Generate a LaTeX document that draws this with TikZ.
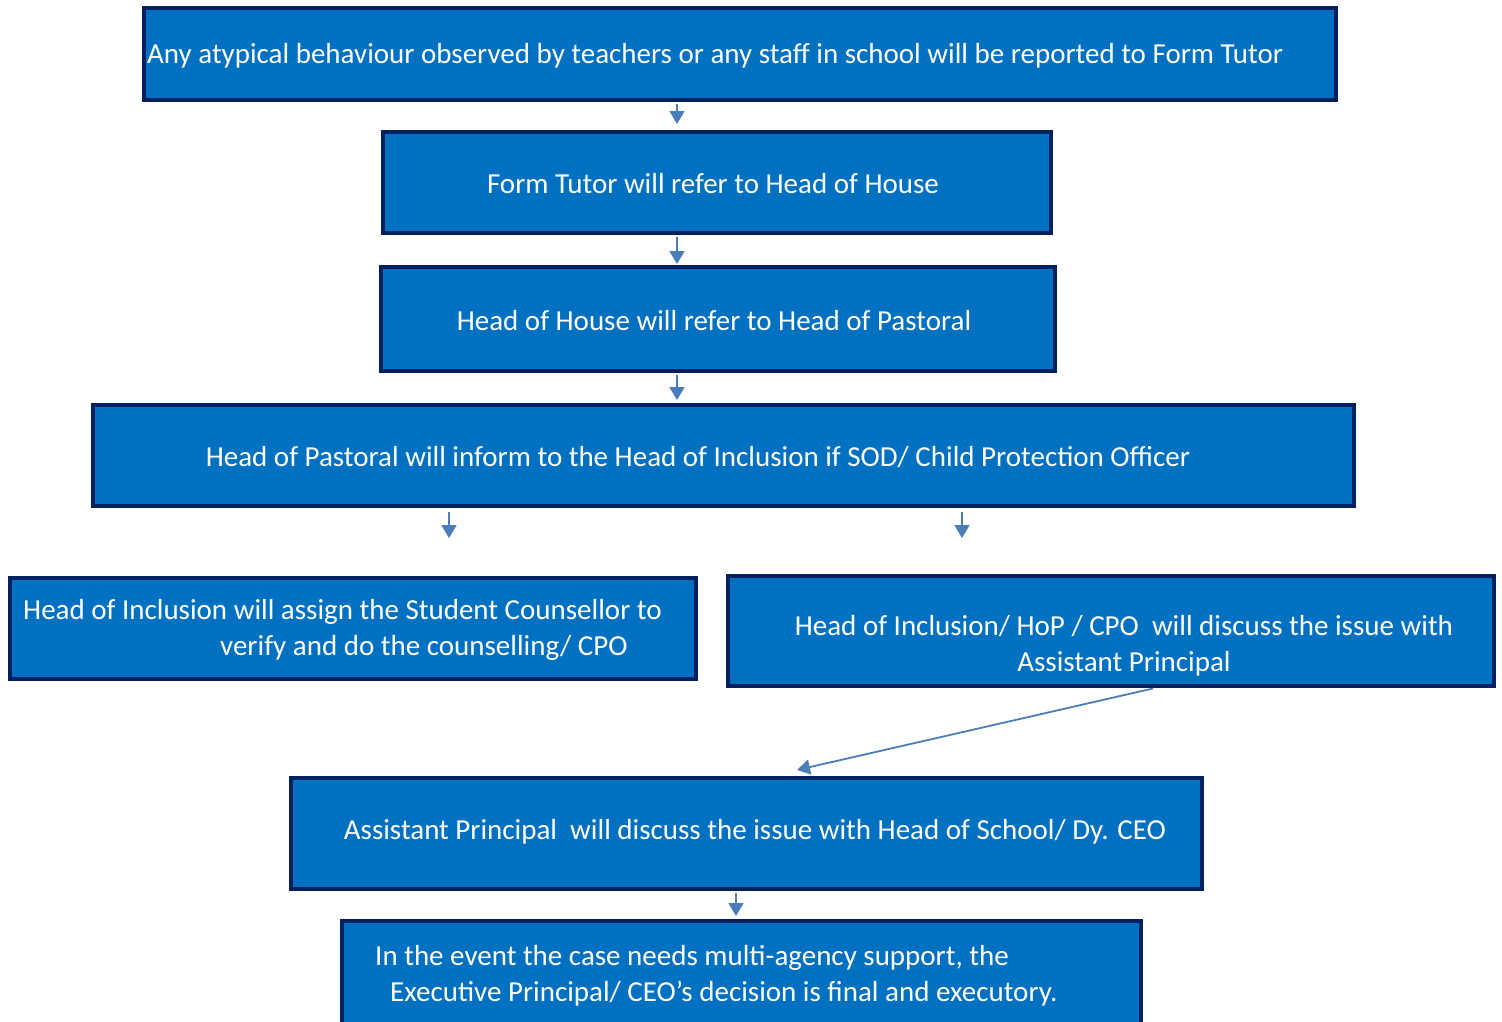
\documentclass[tikz,border=0pt]{standalone}
\usepackage{fontspec}
\setmainfont{Carlito}
\usetikzlibrary{arrows.meta}
\definecolor{boxfill}{HTML}{0070C0}
\definecolor{boxline}{HTML}{002060}
\definecolor{arrcol}{HTML}{4A7EBB}
\tikzset{
  flowbox/.style={draw=boxline, fill=boxfill, line width=4pt, inner sep=0pt},
  txt/.style={text=white, inner sep=0pt, font=\fontsize{29}{35.5}\selectfont},
  arr/.style={draw=arrcol, line width=1.8pt, -{Triangle[width=15pt,length=13pt]}}
}
\begin{document}
\begin{tikzpicture}[x=1pt,y=-1pt]
\useasboundingbox (0,0) rectangle (1502,1021);
\clip (0,0) rectangle (1502,1021);
\fill[white] (0,0) rectangle (1502,1021);
% boxes
\node[flowbox, minimum width=1192pt, minimum height=92pt]  (b1) at (740,54) {};
\node[flowbox, minimum width=668pt,  minimum height=101pt] (b2) at (717,182.5) {};
\node[flowbox, minimum width=674pt,  minimum height=104pt] (b3) at (718,319) {};
\node[flowbox, minimum width=1261pt, minimum height=101pt] (b4) at (723.5,455.5) {};
\node[flowbox, minimum width=686pt,  minimum height=101pt] (b5) at (353,628.5) {};
\node[flowbox, minimum width=766pt,  minimum height=110pt] (b6) at (1111,631) {};
\node[flowbox, minimum width=911pt,  minimum height=111pt] (b7) at (746.5,833.5) {};
\node[flowbox, minimum width=799pt,  minimum height=125pt] (b8) at (741.5,983.5) {};
% texts
\node[txt, anchor=west] (t1) at (147,56) {Any atypical behaviour observed by teachers or any staff in school will be reported to Form Tutor};
\node[txt] (t2) at (713,184) {Form Tutor will refer to Head of House};
\node[txt] (t3) at (714,321) {Head of House will refer to Head of Pastoral};
\node[txt] (t4) at (698,457) {Head of Pastoral will inform to the Head of Inclusion if SOD/ Child Protection Officer};
\node[txt, anchor=west, align=left] (t5) at (23,630) {Head of Inclusion will assign the Student Counsellor to\\\hspace*{197pt}verify and do the counselling/ CPO};
\node[txt, align=center] (t6) at (1124,646) {Head of Inclusion/ HoP / CPO\ \ will discuss the issue with\\Assistant Principal};
\node[txt] (t7) at (755,832) {Assistant Principal\ \ will discuss the issue with Head of School/ Dy. CEO};
\node[txt, anchor=west, align=left] (t8) at (375,976) {In the event the case needs multi-agency support, the\\\hspace*{15pt}Executive Principal/ CEO’s decision is final and executory.};
% arrows
\draw[arr, shorten <=2pt, shorten >=6pt] ([xshift=-63pt]b1.south) -- ([xshift=-40pt]b2.north);
\draw[arr, shorten <=2pt, shorten >=1pt] ([xshift=-40pt]b2.south) -- ([xshift=-41pt]b3.north);
\draw[arr, shorten <=2pt, shorten >=3pt] ([xshift=-41pt]b3.south) -- ([xshift=-46.5pt]b4.north);
\draw[arr, shorten <=4pt, shorten >=38pt] ([xshift=-274.5pt]b4.south) -- ([xshift=96pt]b5.north);
\draw[arr, shorten <=4pt, shorten >=36pt] ([xshift=238.5pt]b4.south) -- ([xshift=-149pt]b6.north);
\draw[arr, shorten <=2pt] ([xshift=44pt]b6.south) -- ([xshift=50.5pt,yshift=6pt]b7.north);
\draw[arr, shorten <=2pt, shorten >=3pt] ([xshift=-10.5pt]b7.south) -- ([xshift=-5.5pt]b8.north);
\end{tikzpicture}
\end{document}
